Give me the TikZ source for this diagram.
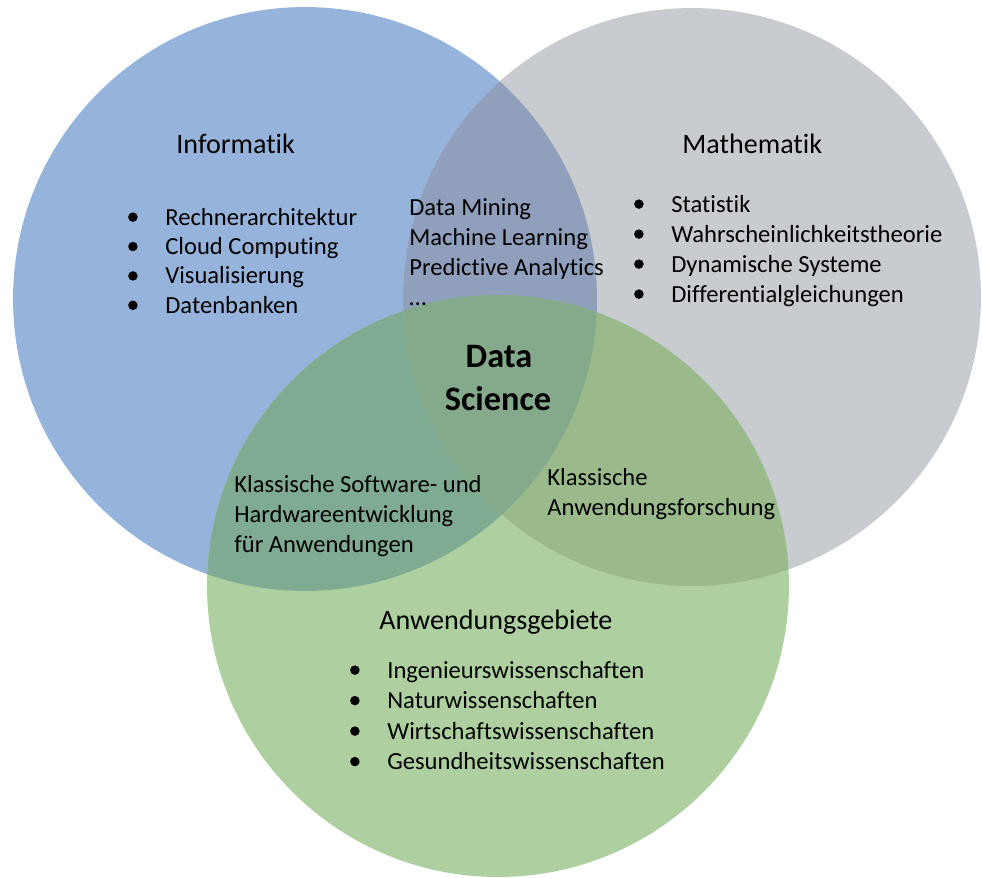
\documentclass[tikz,border=0pt]{standalone}
\usepackage{fontspec}
\setmainfont[Ligatures=NoCommon]{Carlito}
\usetikzlibrary{positioning}

\definecolor{infoblue}{HTML}{96B3DB}
\definecolor{mathgray}{HTML}{C8CBCF}
\definecolor{appgreen}{HTML}{AED0A0}
\definecolor{bluegray}{HTML}{8F9FBC}
\definecolor{bluegreen}{HTML}{80AB93}
\definecolor{graygreen}{HTML}{9ABA8C}
\definecolor{allthree}{HTML}{84A98B}

\tikzset{
  title/.style={font=\fontsize{16}{19}\selectfont, anchor=base west, inner sep=0pt},
  item/.style={font=\fontsize{14}{17}\selectfont, anchor=base west, inner sep=0pt,
    text height=9pt, text depth=0pt},
  bul/.style={circle, fill=black, inner sep=0pt, minimum size=0.19cm},
  core/.style={font=\fontsize{19.5}{23}\selectfont\bfseries, anchor=base, inner sep=0pt}
}

\begin{document}
\begin{tikzpicture}[x=0.02cm,y=-0.02cm]
\useasboundingbox (0,0) rectangle (982,877);
\coordinate (I) at (305,299);
\coordinate (M) at (692,297);
\coordinate (A) at (498,586);
\def\rI{5.84cm}
\def\rM{5.78cm}
\def\rA{5.82cm}

% circles and overlaps
\fill[infoblue] (I) circle[radius=\rI];
\fill[mathgray] (M) circle[radius=\rM];
\fill[appgreen] (A) circle[radius=\rA];
\begin{scope}
  \clip (I) circle[radius=\rI];
  \fill[bluegray] (M) circle[radius=\rM];
  \fill[bluegreen] (A) circle[radius=\rA];
\end{scope}
\begin{scope}
  \clip (M) circle[radius=\rM];
  \fill[graygreen] (A) circle[radius=\rA];
\end{scope}
\begin{scope}
  \clip (I) circle[radius=\rI];
  \clip (M) circle[radius=\rM];
  \fill[allthree] (A) circle[radius=\rA];
\end{scope}

% titles
\node[title] (informatik) at (176,153) {Informatik};
\node[title] (mathematik) at (682,153) {Mathematik};
\node[title] (anwendung) at (379,629) {Anwendungsgebiete};

% lists
\foreach \t [count=\i] in {Rechnerarchitektur, Cloud Computing, Visualisierung, Datenbanken} {
  \pgfmathsetmacro\yy{225+29.4*(\i-1)}
  \node[item] (inf\i) at (165,\yy) {\t};
  \node[bul, left=0.54cm of inf\i.west] (infb\i) {};
}
\foreach \t [count=\i] in {Statistik, Wahrscheinlichkeitstheorie, Dynamische Systeme, Differentialgleichungen} {
  \pgfmathsetmacro\yy{212+30*(\i-1)}
  \node[item] (mat\i) at (671,\yy) {\t};
  \node[bul, left=0.54cm of mat\i.west] (matb\i) {};
}
\foreach \t [count=\i] in {Ingenieurswissenschaften, Naturwissenschaften, Wirtschaftswissenschaften, Gesundheitswissenschaften} {
  \pgfmathsetmacro\yy{678+30.5*(\i-1)}
  \node[item] (app\i) at (387,\yy) {\t};
  \node[bul, left=0.54cm of app\i.west] (appb\i) {};
}

% overlaps
\foreach \t [count=\i] in {Data Mining, Machine Learning, Predictive Analytics, \dots} {
  \pgfmathsetmacro\yy{215+30*(\i-1)}
  \node[item] (im\i) at (409,\yy) {\t};
}
\foreach \t [count=\i] in {Klassische Software- und, Hardwareentwicklung, für Anwendungen} {
  \pgfmathsetmacro\yy{492+30*(\i-1)}
  \node[item] (ia\i) at (234,\yy) {\t};
}
\foreach \t [count=\i] in {Klassische, Anwendungsforschung} {
  \pgfmathsetmacro\yy{485+30*(\i-1)}
  \node[item] (ma\i) at (547,\yy) {\t};
}

\node[core] (ds1) at (499,367) {Data};
\node[core] (ds2) at (498,410) {Science};
\end{tikzpicture}
\end{document}
